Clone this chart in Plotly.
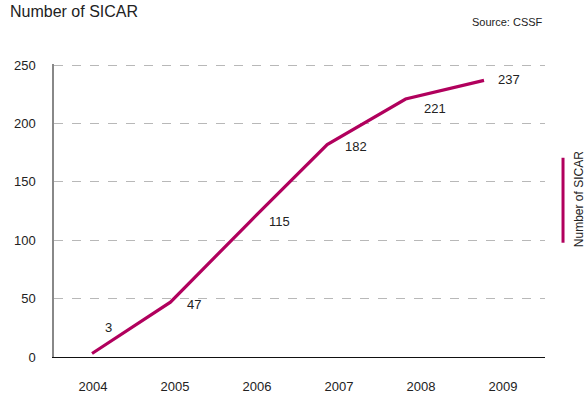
import plotly.graph_objects as go

years = [2004, 2005, 2006, 2007, 2008, 2009]
sicar = [3, 47, 115, 182, 221, 237]
tick_years = ["2004", "2005", "2006", "2007", "2008", "2009"]
y_ticks = [0, 50, 100, 150, 200, 250]

# label offsets in pixels (style only)
lab_dx = [16, 24, 31, 29, 29, 25]
lab_dy = [26, -2, 1, -2, -9, 1]

COL = "#B1005D"
FONT = "Liberation Sans, Arial, sans-serif"

fig = go.Figure()
fig.add_trace(go.Scatter(x=years, y=sicar, mode="lines",
                         line=dict(color=COL, width=3.2), showlegend=False,
                         hoverinfo="skip"))
# invisible trace on label axis
fig.add_trace(go.Scatter(x=years, y=sicar, xaxis="x2", mode="lines",
                         line=dict(width=0), opacity=0, showlegend=False,
                         hoverinfo="skip"))

fig.update_layout(
    width=585, height=394,
    margin=dict(l=54, r=40, t=64, b=37),
    plot_bgcolor="white", paper_bgcolor="white",
    font=dict(family=FONT, color="#222", size=13),
    xaxis=dict(range=[2003.515, 2009.778], showticklabels=False, showgrid=False,
               zeroline=False, showline=True, linecolor="#111", linewidth=1.2,
               ticks="", automargin=False),
    xaxis2=dict(overlaying="x", side="bottom", range=[2003.524, 2009.512],
                tickmode="array", tickvals=years, ticktext=tick_years,
                showgrid=False, zeroline=False, showline=False, ticks="",
                automargin=False,
                ticklabelstandoff=20, tickfont=dict(size=13, color="#222")),
    yaxis=dict(range=[0, 251], tickmode="array", tickvals=y_ticks,
               showgrid=True, gridcolor="#b8b8b8", griddash="dash", gridwidth=1,
               zeroline=False, showline=True, linecolor="#888", linewidth=1.5,
               ticks="", ticklabelstandoff=14, automargin=False,
               tickfont=dict(size=13, color="#222")),
    shapes=[dict(type="line", xref="paper", yref="paper",
                 x0=1.0367, x1=1.0367, y0=0.39, y1=0.68,
                 line=dict(color=COL, width=3))],
)

fig.add_annotation(text="Number of SICAR", xref="paper", yref="paper",
                   x=-0.094, y=1.18, xanchor="left", yanchor="middle", showarrow=False,
                   font=dict(size=16, color="#222", family=FONT))
fig.add_annotation(text="Source: CSSF", xref="paper", yref="paper",
                   x=1.0, y=1.145, xanchor="right", yanchor="middle", showarrow=False,
                   font=dict(size=11, color="#222", family=FONT))
fig.add_annotation(text="Number of SICAR", xref="paper", yref="paper", textangle=-90,
                   x=1.068, y=0.54, xanchor="center", yanchor="middle", showarrow=False,
                   font=dict(size=12, color="#222", family=FONT))

for x, y, dx, dy in zip(years, sicar, lab_dx, lab_dy):
    fig.add_annotation(x=x, y=y, text=str(y), showarrow=False,
                       xshift=dx, yshift=dy, xanchor="center", yanchor="middle",
                       font=dict(size=13, color="#222", family=FONT))

fig.write_html("out.html")
